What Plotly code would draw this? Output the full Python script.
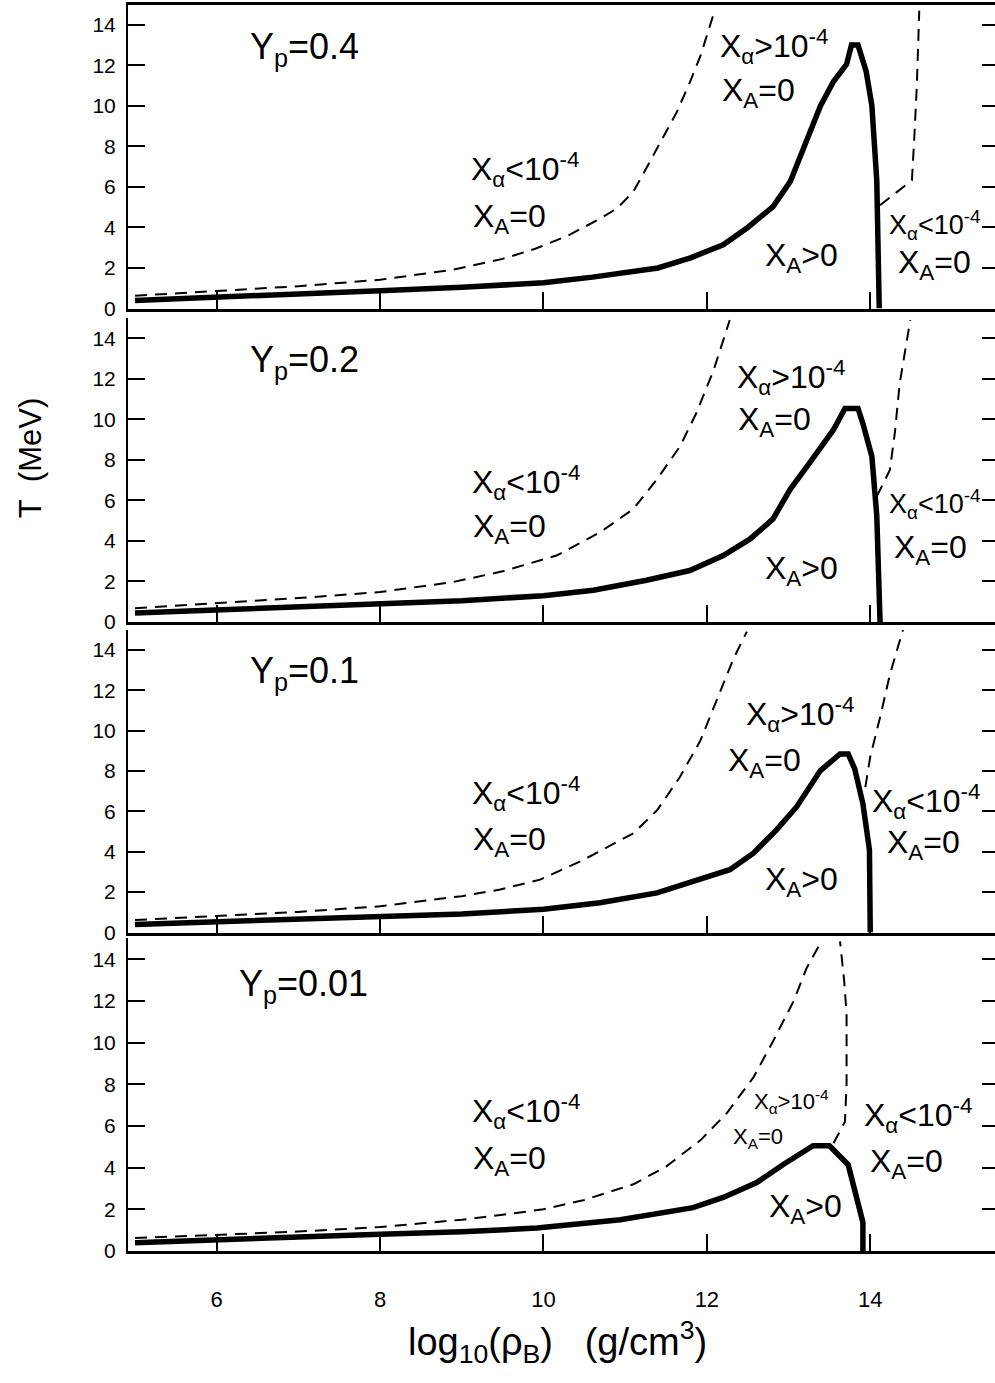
import plotly.graph_objects as go

# ---------------- data ----------------
yp_values = ["0.4", "0.2", "0.1", "0.01"]
x_ticks = [6, 8, 10, 12, 14]
y_ticks = [0, 2, 4, 6, 8, 10, 12, 14]

# Yp = 0.4
solid_x_04 = [5.0, 6.0, 7.0, 8.0, 9.0, 10.0, 10.6, 11.4, 11.8, 12.2, 12.5, 12.81, 13.02, 13.2, 13.39, 13.55, 13.71, 13.77, 13.85, 13.95, 14.02, 14.08, 14.11]
solid_T_04 = [0.4, 0.58, 0.72, 0.88, 1.05, 1.27, 1.55, 2.0, 2.5, 3.15, 4.0, 5.03, 6.26, 8.0, 10.0, 11.2, 12.05, 13.0, 13.0, 11.7, 10.0, 6.3, 0.0]
dashL_x_04 = [5.0, 6.0, 7.0, 8.0, 8.9, 9.5, 9.9, 10.3, 10.7, 10.9, 11.1, 11.3, 11.5, 11.63, 11.79, 11.92, 12.08]
dashL_T_04 = [0.63, 0.85, 1.1, 1.42, 1.92, 2.45, 2.95, 3.6, 4.45, 4.94, 5.77, 7.23, 8.7, 9.68, 11.15, 12.45, 14.5]
dashR_x_04 = [14.12, 14.51, 14.54, 14.57, 14.6]
dashR_T_04 = [5.1, 6.33, 8.5, 11.0, 14.7]

# Yp = 0.2
solid_x_02 = [5.0, 6.0, 7.0, 8.0, 9.0, 10.0, 10.61, 11.26, 11.79, 12.2, 12.53, 12.81, 13.02, 13.3, 13.55, 13.69, 13.85, 13.91, 14.02, 14.08, 14.12]
solid_T_02 = [0.44, 0.59, 0.72, 0.88, 1.05, 1.3, 1.57, 2.06, 2.54, 3.28, 4.1, 5.09, 6.55, 8.09, 9.49, 10.54, 10.54, 9.8, 8.17, 5.24, 0.0]
dashL_x_02 = [5.0, 6.0, 7.0, 8.0, 8.89, 9.5, 10.16, 10.69, 11.1, 11.39, 11.67, 11.87, 12.08, 12.28]
dashL_T_02 = [0.68, 0.92, 1.18, 1.48, 1.97, 2.5, 3.28, 4.42, 5.58, 7.05, 8.66, 10.3, 12.4, 14.9]
dashR_x_02 = [14.08, 14.24, 14.3, 14.36, 14.49]
dashR_T_02 = [6.2, 7.5, 9.3, 11.76, 14.9]

# Yp = 0.1
solid_x_01 = [5.0, 6.0, 7.0, 8.0, 9.0, 10.0, 10.69, 11.39, 12.28, 12.57, 12.85, 13.1, 13.39, 13.63, 13.73, 13.81, 13.91, 13.99, 14.0]
solid_T_01 = [0.4, 0.52, 0.62, 0.78, 0.92, 1.15, 1.47, 1.96, 3.11, 3.93, 5.07, 6.23, 8.02, 8.84, 8.84, 8.1, 6.38, 4.09, 0.0]
dashL_x_01 = [5.0, 6.0, 7.0, 8.0, 9.0, 9.47, 9.96, 10.49, 11.1, 11.39, 11.67, 11.92, 12.16, 12.33, 12.49]
dashL_T_01 = [0.62, 0.82, 1.02, 1.3, 1.8, 2.13, 2.62, 3.6, 4.91, 6.05, 7.7, 9.5, 11.95, 13.6, 14.9]
dashR_x_01 = [13.94, 14.0, 14.12, 14.24, 14.4]
dashR_T_01 = [7.2, 8.7, 10.65, 12.77, 14.98]

# Yp = 0.01
solid_x_001 = [5.0, 6.0, 7.0, 8.0, 9.0, 9.92, 10.94, 11.83, 12.2, 12.61, 12.93, 13.3, 13.5, 13.73, 13.91, 13.91]
solid_T_001 = [0.4, 0.55, 0.65, 0.8, 0.92, 1.1, 1.5, 2.08, 2.57, 3.28, 4.14, 5.05, 5.05, 4.14, 1.37, 0.0]
dashL_x_001 = [5.0, 6.0, 7.0, 8.0, 9.0, 9.5, 10.0, 10.5, 11.1, 11.5, 11.92, 12.24, 12.57, 12.81, 13.06, 13.22, 13.4]
dashL_T_001 = [0.62, 0.77, 0.93, 1.15, 1.5, 1.74, 2.0, 2.45, 3.2, 4.05, 5.31, 6.6, 8.33, 10.07, 11.98, 13.57, 14.85]
dashR_x_001 = [13.55, 13.69, 13.71, 13.71, 13.68, 13.63]
dashR_T_001 = [5.17, 6.2, 8.0, 11.4, 13.0, 14.86]

panels = [
    (solid_x_04, solid_T_04, dashL_x_04, dashL_T_04, dashR_x_04, dashR_T_04),
    (solid_x_02, solid_T_02, dashL_x_02, dashL_T_02, dashR_x_02, dashR_T_02),
    (solid_x_01, solid_T_01, dashL_x_01, dashL_T_01, dashR_x_01, dashR_T_01),
    (solid_x_001, solid_T_001, dashL_x_001, dashL_T_001, dashR_x_001, dashR_T_001),
]

# ---------------- layout / style ----------------
W, H = 995, 1383
FONT = "Arial, Liberation Sans, Helvetica, sans-serif"
x_range = [4.914, 15.527]
y_range = [0, 15]
# panel vertical extents in pixels (top, bottom)
panel_px = [(4.6, 311), (320.6, 627), (634.6, 940), (946, 1261)]

BIG = 32
MID = 27
SMALL = 22
YP = 36

A_LT = "X<sub>α</sub>&lt;10<sup>-4</sup>"
A_GT = "X<sub>α</sub>&gt;10<sup>-4</sup>"
XA0 = "X<sub>A</sub>=0"
XAP = "X<sub>A</sub>&gt;0"

# per panel label placements: (text, x, T, size)
labels = [
    [("Y<sub>p</sub>=" + yp_values[0], 6.38, 12.8, YP), (A_LT, 9.09, 6.85, BIG), (XA0, 9.11, 4.45, BIG),
     (A_GT, 12.14, 12.94, BIG), (XA0, 12.16, 10.66, BIG), (XAP, 12.69, 2.5, BIG),
     (A_LT, 14.21, 4.13, MID), (XA0, 14.31, 2.17, BIG)],
    [("Y<sub>p</sub>=" + yp_values[1], 6.38, 12.85, YP), (A_LT, 9.1, 6.87, BIG), (XA0, 9.11, 4.6, BIG),
     (A_GT, 12.34, 12.09, BIG), (XA0, 12.36, 9.89, BIG), (XAP, 12.69, 2.55, BIG),
     (A_LT, 14.21, 5.81, MID), (XA0, 14.27, 3.6, BIG)],
    [("Y<sub>p</sub>=" + yp_values[2], 6.38, 12.83, YP), (A_LT, 9.1, 6.9, BIG), (XA0, 9.11, 4.5, BIG),
     (A_GT, 12.45, 10.8, BIG), (XA0, 12.24, 8.43, BIG), (XAP, 12.69, 2.54, BIG),
     (A_LT, 14.0, 6.47, BIG), (XA0, 14.18, 4.34, BIG)],
    [("Y<sub>p</sub>=" + yp_values[3], 6.25, 12.7, YP), (A_LT, 9.1, 6.71, BIG), (XA0, 9.11, 4.33, BIG),
     (A_GT, 12.55, 7.19, SMALL), (XA0, 12.3, 5.44, SMALL), (XAP, 12.73, 2.05, BIG),
     (A_LT, 13.9, 6.48, BIG), (XA0, 13.97, 4.18, BIG)],
]

fig = go.Figure()
layout = dict(
    width=W, height=H,
    margin=dict(l=128, r=0, t=0, b=0, pad=0),
    paper_bgcolor="white", plot_bgcolor="white",
    showlegend=False,
    font=dict(family=FONT, color="black", size=21),
)
annotations = []

for i, (sx, sT, lx, lT, rx, rT) in enumerate(panels, start=1):
    xa = f"x{i}" if i > 1 else "x"
    ya = f"y{i}" if i > 1 else "y"
    yr = f"y{i + 4}"
    top_px, bot_px = panel_px[i - 1]
    dom = [1 - bot_px / H, 1 - top_px / H]

    fig.add_trace(go.Scatter(x=sx, y=sT, xaxis=xa, yaxis=ya, mode="lines",
                             line=dict(color="black", width=5.5), hoverinfo="skip"))
    fig.add_trace(go.Scatter(x=lx, y=lT, xaxis=xa, yaxis=ya, mode="lines",
                             line=dict(color="black", width=2, dash="12px,8px"), hoverinfo="skip"))
    fig.add_trace(go.Scatter(x=rx, y=rT, xaxis=xa, yaxis=ya, mode="lines",
                             line=dict(color="black", width=2, dash="12px,8px"), hoverinfo="skip"))
    fig.add_trace(go.Scatter(x=[], y=[], xaxis=xa, yaxis=yr, mode="lines", hoverinfo="skip"))

    layout[f"xaxis{i}"] = dict(
        domain=[0, 1], range=x_range, anchor=ya,
        showline=True, linewidth=3, linecolor="black", mirror=(i == 1),
        ticks="inside", ticklen=17, tickwidth=1.6, tickcolor="black",
        tickvals=x_ticks, showticklabels=(i == 4), showgrid=False, zeroline=False,
        tickfont=dict(size=22, family=FONT, color="black"), ticklabelstandoff=27,
    )
    layout[f"yaxis{i}"] = dict(
        domain=dom, range=y_range, anchor=xa,
        showline=True, linewidth=2, linecolor="black",
        ticks="inside", ticklen=17, tickwidth=2, tickcolor="black",
        tickvals=y_ticks, showgrid=False, zeroline=False,
        tickfont=dict(size=21, family=FONT, color="black"), ticklabelstandoff=6,
    )
    layout[f"yaxis{i + 4}"] = dict(
        overlaying=ya, side="right", anchor=xa, range=y_range,
        showline=False, ticks="inside", ticklen=13, tickwidth=2, tickcolor="black",
        tickvals=y_ticks[1:], showticklabels=False, showgrid=False, zeroline=False,
    )

    for (txt, lx0, lT0, sz) in labels[i - 1]:
        annotations.append(dict(
            text=txt, x=lx0, y=lT0, xref=xa, yref=ya, xanchor="left", yanchor="middle",
            showarrow=False, font=dict(size=sz, family=FONT, color="black"),
        ))

# axis titles
annotations.append(dict(
    text="log<sub>10</sub>(ρ<sub>B</sub>)\u00a0\u00a0\u00a0(g/cm<sup>3</sup>)",
    x=(557 - 128) / 867, y=1 - 1353 / H, xref="paper", yref="paper",
    xanchor="center", yanchor="middle", showarrow=False,
    font=dict(size=38, family=FONT, color="black"),
))
annotations.append(dict(
    text="T\u00a0\u00a0(MeV)", x=(30 - 128) / 867, y=1 - 462 / H, xref="paper", yref="paper",
    xanchor="center", yanchor="middle", showarrow=False, textangle=-90,
    font=dict(size=31, family=FONT, color="black"),
))

layout["annotations"] = annotations
fig.update_layout(**layout)
fig.write_html("out.html", config={"displayModeBar": False},
               post_script="document.body.style.margin='0px';document.body.style.overflow='hidden';")
